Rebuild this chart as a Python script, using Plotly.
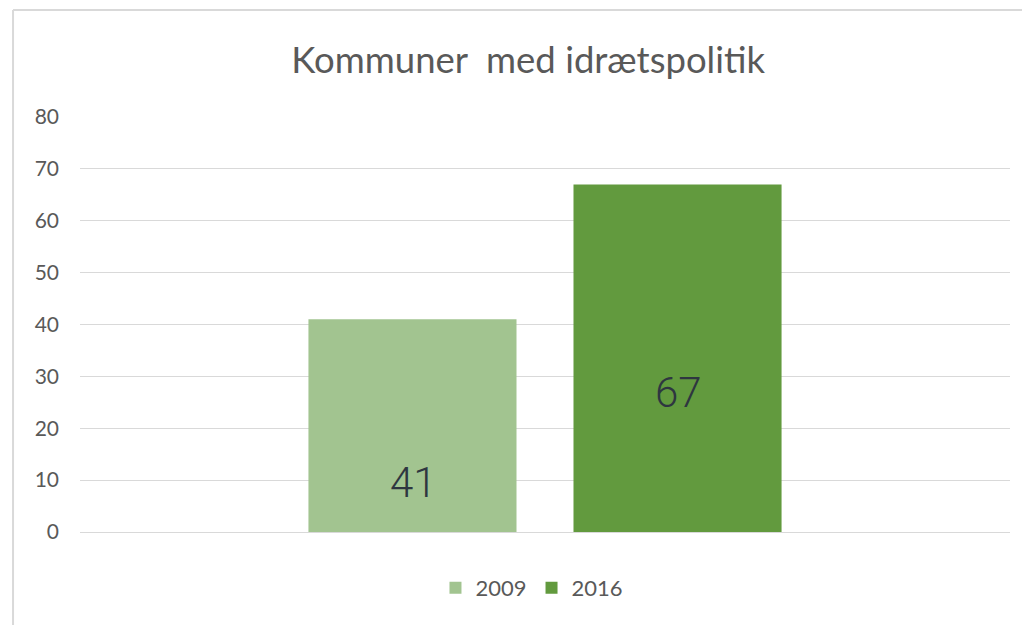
import plotly.graph_objects as go

categories = ["Kommuner med idrætspolitik"]
series_names = ["2009", "2016"]
values_2009 = [41]
values_2016 = [67]
label_heights = [9.6, 26.8]  # vertical position (data units) of the in-bar value labels
colors = ["#A2C490", "#629A3E"]
yticks = [0, 10, 20, 30, 40, 50, 60, 70, 80]

FONT = "Lato, Open Sans, sans-serif"

fig = go.Figure()
for name, vals, col in zip(series_names, [values_2009, values_2016], colors):
    fig.add_trace(go.Bar(x=categories, y=vals, name=name,
                         marker=dict(color=col, line=dict(width=0))))

# value labels inside bars
for i, (vals, h) in enumerate(zip([values_2009, values_2016], label_heights)):
    fig.add_annotation(
        x=categories[0], y=h, xref="x", yref="y",
        text=str(vals[0]), showarrow=False,
        xshift=(-132 if i == 0 else 133),
        font=dict(family="Roboto, Lato, sans-serif", size=42, color="#2E3640", weight=300),
    )

fig.update_layout(
    width=1014, height=625,
    margin=dict(l=72, r=12, t=109, b=101),
    paper_bgcolor="white", plot_bgcolor="white",
    barmode="group", bargap=0.43, bargroupgap=0.215,
    title=dict(text="Kommuner  med idrætspolitik", x=0.513, xanchor="center",
               y=1 - 52 / 625, yanchor="middle",
               font=dict(family=FONT, size=36.5, color="#595959", weight=400)),
    xaxis=dict(type="category", showticklabels=False, showgrid=False, zeroline=False, showline=False),
    yaxis=dict(range=[0, 80], tickvals=yticks, showgrid=True, gridcolor="#D9D9D9", gridwidth=1,
               zeroline=True, zerolinecolor="#D9D9D9", zerolinewidth=1, showline=False,
               ticklabelstandoff=20,
               tickfont=dict(family=FONT, size=21, color="#595959")),
    legend=dict(orientation="h", x=0.486, xanchor="center", y=-0.135, yanchor="middle",
                font=dict(family=FONT, size=22, color="#595959"),
                itemwidth=30, traceorder="normal"),
    showlegend=True,
    shapes=[
        dict(type="line", xref="paper", yref="paper", x0=-0.072, x1=1.1, y0=1.258, y1=1.258,
             line=dict(color="#D9D9D9", width=2)),
        dict(type="line", xref="paper", yref="paper", x0=-0.072, x1=-0.072, y0=1.258, y1=-0.5,
             line=dict(color="#D9D9D9", width=2)),
    ],
)

fig.write_html("out.html")
